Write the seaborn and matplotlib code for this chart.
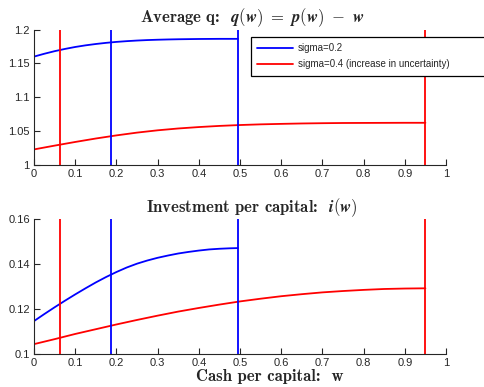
import matplotlib
matplotlib.use("Agg")
import matplotlib.pyplot as plt
import seaborn as sns
import pandas as pd

# Cash-per-capital grids and model solutions for two volatility levels
w_low = [0.0, 0.025, 0.05, 0.075, 0.1, 0.125, 0.15, 0.175, 0.2, 0.225, 0.25,
         0.275, 0.3, 0.325, 0.35, 0.375, 0.4, 0.425, 0.45, 0.475, 0.495]
q_low = [1.1600, 1.1642, 1.1680, 1.1713, 1.1742, 1.1766, 1.1786, 1.1803, 1.1817,
         1.1828, 1.1837, 1.1844, 1.1849, 1.1853, 1.1856, 1.1858, 1.1860, 1.1861,
         1.1862, 1.1862, 1.1862]
i_low = [0.1147, 0.1178, 0.1208, 0.1237, 0.1265, 0.1292, 0.1318, 0.1342, 0.1364,
         0.1384, 0.1401, 0.1415, 0.1427, 0.1437, 0.1446, 0.1453, 0.1459, 0.1464,
         0.1467, 0.1469, 0.1470]

w_high = [0.0, 0.05, 0.1, 0.15, 0.2, 0.25, 0.3, 0.35, 0.4, 0.45, 0.5,
          0.55, 0.6, 0.65, 0.7, 0.75, 0.8, 0.85, 0.9, 0.95]
q_high = [1.0230, 1.0286, 1.0340, 1.0391, 1.0437, 1.0478, 1.0512, 1.0539, 1.0560,
          1.0577, 1.0590, 1.0600, 1.0607, 1.0613, 1.0617, 1.0620, 1.0621, 1.0622,
          1.0623, 1.0623]
i_high = [0.1045, 0.1067, 0.1090, 0.1111, 0.1132, 0.1152, 0.1171, 0.1189, 0.1205,
          0.1220, 0.1234, 0.1246, 0.1257, 0.1266, 0.1274, 0.1280, 0.1285, 0.1289,
          0.1291, 0.1292]

# Lower and upper cash boundaries for each case
bounds_low = [0.187, 0.495]
bounds_high = [0.063, 0.950]

labels = ["sigma=0.2", "sigma=0.4 (increase in uncertainty)"]
colors = ["#0000ff", "#ff0000"]

sns.set_style("ticks")
plt.rcParams["font.family"] = ["Liberation Sans", "DejaVu Sans"]
plt.rcParams["mathtext.fontset"] = "cm"

df = pd.concat([
    pd.DataFrame({"w": w_low, "q": q_low, "i": i_low, "case": labels[0]}),
    pd.DataFrame({"w": w_high, "q": q_high, "i": i_high, "case": labels[1]}),
])

fig = plt.figure(figsize=(4.84, 3.87), dpi=100)
ax1 = fig.add_axes([34 / 484, 1 - 165 / 387, 412 / 484, 135.5 / 387])
ax2 = fig.add_axes([34 / 484, 1 - 354.3 / 387, 412 / 484, 135.6 / 387])

for ax, col in [(ax1, "q"), (ax2, "i")]:
    sns.lineplot(data=df, x="w", y=col, hue="case", palette=colors,
                 ax=ax, linewidth=1.3, legend=(ax is ax1), sort=True)
    for b in bounds_low:
        ax.axvline(b, color=colors[0], linewidth=1.3)
    for b in bounds_high:
        ax.axvline(b, color=colors[1], linewidth=1.3)
    ax.set_xlim(0, 1)
    ax.set_xticks([round(0.1 * k, 1) for k in range(11)])
    ax.set_xticklabels(["0", "0.1", "0.2", "0.3", "0.4", "0.5", "0.6", "0.7", "0.8", "0.9", "1"])
    ax.tick_params(direction="in", length=4, width=0.8, labelsize=8,
                   colors="#262626", pad=3)
    for s in ["top", "right"]:
        ax.spines[s].set_visible(False)
    for s in ["left", "bottom"]:
        ax.spines[s].set_color("#262626")
        ax.spines[s].set_linewidth(0.8)
    ax.set_ylabel("")
    ax.set_xlabel("")

ax1.set_ylim(1.0, 1.2)
ax1.set_yticks([1.0, 1.05, 1.1, 1.15, 1.2])
ax1.set_yticklabels(["1", "1.05", "1.1", "1.15", "1.2"])
ax2.set_ylim(0.1, 0.16)
ax2.set_yticks([0.1, 0.12, 0.14, 0.16])
ax2.set_yticklabels(["0.1", "0.12", "0.14", "0.16"])

title_font = dict(family="cmb10", fontsize=12)
title_x = (252 - 34) / 412
ax1.set_title(r"Average q:  $\boldsymbol{q(w)\ =\ p(w)\ -\ w}$", pad=5,
              x=title_x, **title_font)
ax2.set_title(r"Investment per capital:  $\boldsymbol{i(w)}$", pad=4,
              x=title_x, **title_font)
ax2.set_xlabel("Cash per capital:  w", labelpad=0, **title_font)
ax2.xaxis.set_label_coords((270 - 34) / 412, -0.105)

handles, _ = ax1.get_legend_handles_labels()
leg = ax1.legend(handles, labels, loc="upper left", mode="expand",
                 bbox_to_anchor=((251 - 34) / 412, 1 - 9 / 135.5, 250 / 412, 0.01),
                 fontsize=7, frameon=True, fancybox=False, framealpha=1,
                 edgecolor="black", handlelength=3.7, borderpad=0.65,
                 borderaxespad=0, labelspacing=0.6, handletextpad=0.5)
leg.get_frame().set_linewidth(0.9)

fig.savefig("out.png", dpi=100)
